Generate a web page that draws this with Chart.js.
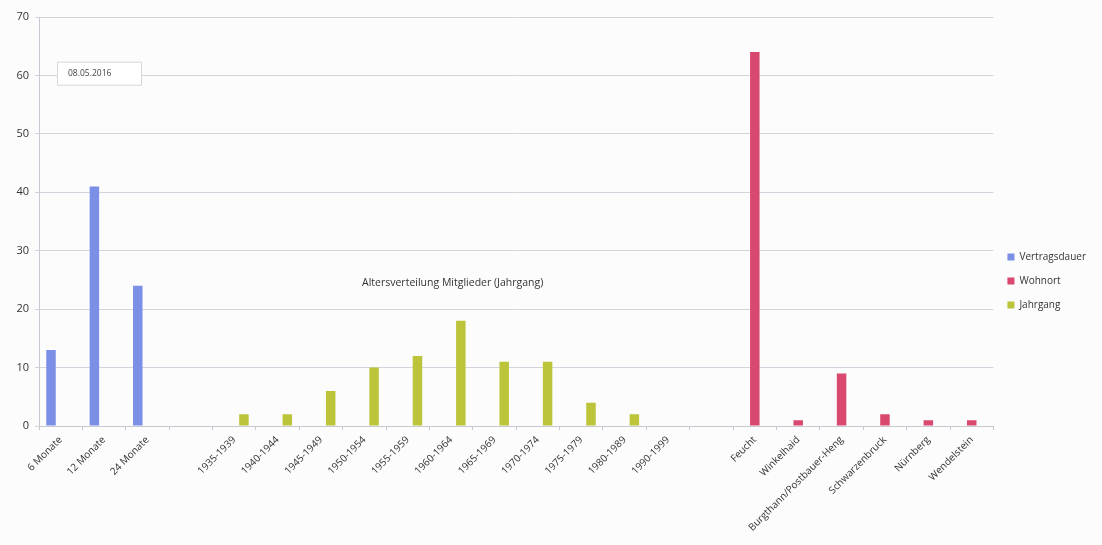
<!DOCTYPE html>
<html>
<head>
<meta charset="utf-8">
<script src="https://cdn.jsdelivr.net/npm/chart.js@4"></script>
<style>
  html, body { margin: 0; padding: 0; background: #fcfcfc; }
  #wrap { width: 1102px; height: 545px; }
</style>
</head>
<body>
<div id="wrap"><canvas id="chart" width="1102" height="545"></canvas></div>
<script>
// categories (empty strings are the gaps between the groups)
const categories = [
  '6 Monate', '12 Monate', '24 Monate', '',
  '1935-1939', '1940-1944', '1945-1949', '1950-1954', '1955-1959', '1960-1964',
  '1965-1969', '1970-1974', '1975-1979', '1980-1989', '1990-1999', '',
  'Feucht', 'Winkelhaid', 'Burgthann/Postbauer-Heng', 'Schwarzenbruck', 'Nürnberg', 'Wendelstein'
];

const vertragsdauer = [13, 41, 24, null, null, null, null, null, null, null, null, null, null, null, null, null, null, null, null, null, null, null];
const wohnort = [null, null, null, null, null, null, null, null, null, null, null, null, null, null, null, null, 64, 1, 9, 2, 1, 1];
const jahrgang = [null, null, null, null, 2, 2, 6, 10, 12, 18, 11, 11, 4, 2, 0, null, null, null, null, null, null, null];

const yTicks = [0, 10, 20, 30, 40, 50, 60, 70];

const dateLabel = '08.05.2016';
const innerTitle = 'Altersverteilung Mitglieder (Jahrgang)';

const font = "'Open Sans', 'Liberation Sans', sans-serif";

// draws the date box and the floating title inside the plot
const notes = {
  id: 'notes',
  afterDraw(chart) {
    const ctx = chart.ctx;
    const area = chart.chartArea;
    const y = chart.scales.y;
    ctx.save();
    // date box
    const by = y.getPixelForValue(60.3);
    ctx.fillStyle = '#ffffff';
    ctx.strokeStyle = '#d8d8d8';
    ctx.lineWidth = 1;
    ctx.fillRect(area.left + 18.5, by - 11.5, 84, 23);
    ctx.strokeRect(area.left + 18.5, by - 11.5, 84, 23);
    ctx.fillStyle = '#444';
    ctx.font = '8.5px ' + font;
    ctx.textBaseline = 'middle';
    ctx.textAlign = 'left';
    ctx.fillText(dateLabel, area.left + 29, by);
    // inner title
    ctx.font = '10.5px ' + font;
    ctx.fillStyle = '#333';
    ctx.fillText(innerTitle, area.left + 323, y.getPixelForValue(24.5));
    ctx.restore();
  }
};

new Chart(document.getElementById('chart'), {
  type: 'bar',
  data: {
    labels: categories,
    datasets: [
      { label: 'Vertragsdauer', data: vertragsdauer, backgroundColor: '#7c8fe6' },
      { label: 'Wohnort', data: wohnort, backgroundColor: '#d9496f' },
      { label: 'Jahrgang', data: jahrgang, backgroundColor: '#bcc43a' }
    ]
  },
  options: {
    responsive: false,
    animation: false,
    categoryPercentage: 0.67,
    barPercentage: 0.98,
    layout: { padding: { top: 17, left: 4, right: 6, bottom: 0 } },
    plugins: {
      tooltip: { enabled: false },
      legend: {
        position: 'right',
        labels: {
          boxWidth: 7,
          boxHeight: 7,
          padding: 14,
          color: '#333',
          font: { family: font, size: 10 }
        }
      }
    },
    scales: {
      x: {
        grid: {
          offset: true,
          drawOnChartArea: false,
          drawTicks: true,
          tickLength: 4,
          color: '#c8c8d0'
        },
        border: { color: '#c8c8d0' },
        ticks: {
          autoSkip: false,
          maxRotation: 45,
          minRotation: 45,
          padding: 4,
          color: '#333',
          font: { family: font, size: 10 }
        },
        afterFit(scale) { scale.height = 119; }
      },
      y: {
        min: 0,
        max: 70,
        afterBuildTicks(scale) { scale.ticks = yTicks.map(v => ({ value: v })); },
        grid: { color: '#d4d4dc', tickLength: 4 },
        border: { color: '#c8c8d0' },
        ticks: {
          padding: 6,
          color: '#333',
          font: { family: font, size: 11 }
        },
        afterFit(scale) { scale.width = 35; }
      }
    }
  },
  plugins: [notes]
});
</script>
</body>
</html>
